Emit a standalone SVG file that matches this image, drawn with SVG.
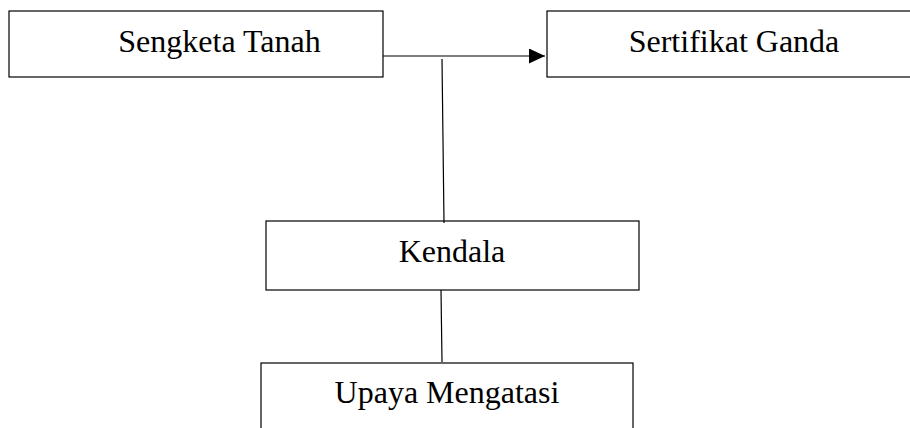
<svg xmlns="http://www.w3.org/2000/svg" width="910" height="428" viewBox="0 0 910 428">
<style>
.box{fill:#fff;stroke:#000;stroke-width:1.2}
.lbl{font-family:"Liberation Serif","Times New Roman",serif;font-size:32px;fill:#000}
.con{fill:none;stroke:#000;stroke-width:1.2}
</style>
<defs>
<marker id="arr" viewBox="0 0 16 15" refX="16" refY="7.5" markerWidth="16" markerHeight="15" markerUnits="userSpaceOnUse" orient="auto">
<path d="M0,0 L16,7.5 L0,15 Z" fill="#000"/>
</marker>
</defs>
<rect width="910" height="428" fill="#fff"/>
<g id="sengketa">
<rect class="box" x="9" y="11" width="374" height="66"/>
<text class="lbl" x="219.5" y="52" text-anchor="middle">Sengketa Tanah</text>
</g>
<g id="sertifikat">
<rect class="box" x="547" y="11" width="370" height="66"/>
<text class="lbl" x="734" y="52" text-anchor="middle">Sertifikat Ganda</text>
</g>
<g id="kendala">
<rect class="box" x="266" y="221" width="373" height="69"/>
<text class="lbl" x="452" y="262" text-anchor="middle">Kendala</text>
</g>
<g id="upaya">
<rect class="box" x="261" y="363" width="372" height="80"/>
<text class="lbl" x="447" y="403" text-anchor="middle">Upaya Mengatasi</text>
</g>
<g id="connectors">
<line class="con" x1="383" y1="56" x2="545" y2="56" marker-end="url(#arr)"/>
<line class="con" x1="442" y1="59" x2="444" y2="223"/>
<line class="con" x1="441" y1="290" x2="442" y2="362"/>
</g>
</svg>
